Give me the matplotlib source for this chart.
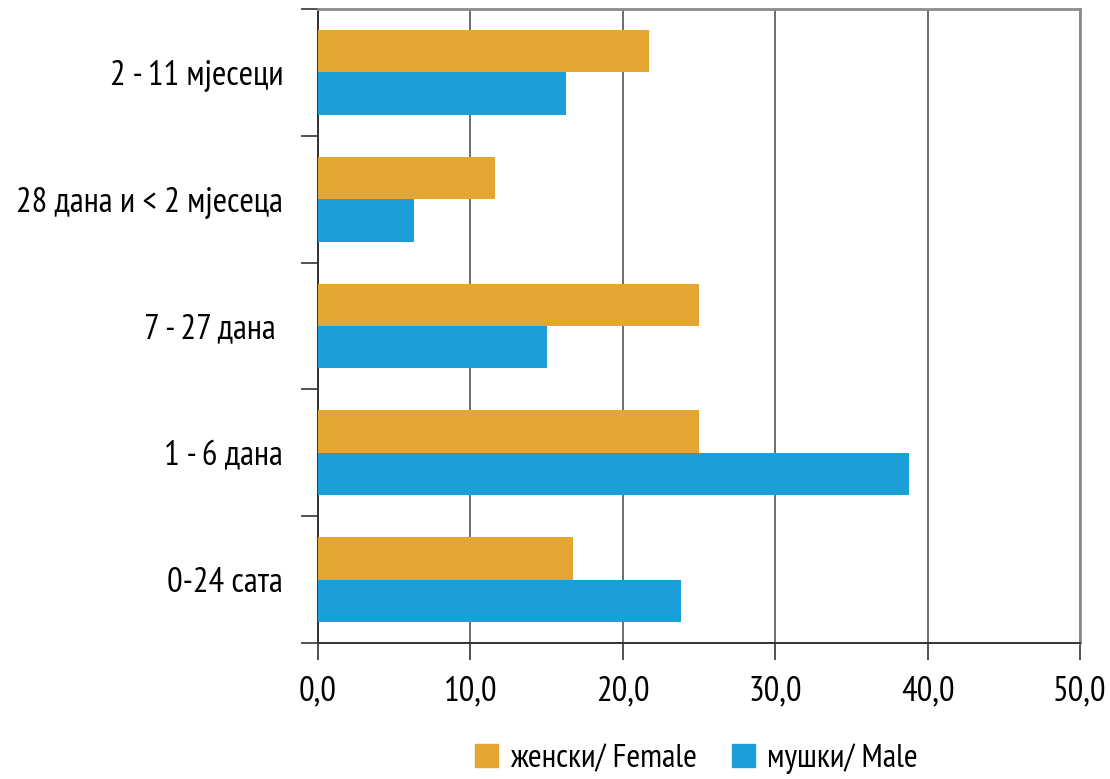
import matplotlib
matplotlib.use("Agg")
import matplotlib.pyplot as plt
import numpy as np
from matplotlib.patches import Patch

categories = ["0-24 сата", "1 - 6 дана", "7 - 27 дана ", "28 дана и < 2 мјесеца", "2 - 11 мјесеци"]
female = [16.7, 25.0, 25.0, 11.6, 21.7]
male = [23.8, 38.8, 15.0, 6.3, 16.3]
labels = ["женски/ Female", "мушки/ Male"]
xticks = [0, 10, 20, 30, 40, 50]

plt.rcParams['font.family'] = ['PT Sans Narrow', 'Roboto Condensed', 'DejaVu Sans']

ORANGE = '#E5A532'
BLUE = '#1B9FD9'

fig = plt.figure(figsize=(11.1, 7.79), dpi=100)
ax = fig.add_axes([318 / 1110, 1 - 643 / 779, (1080 - 318) / 1110, (643 - 9) / 779])

y = np.arange(len(categories))
h = 0.335
ax.barh(y + h / 2, female, height=h, color=ORANGE, label=labels[0], zorder=3)
ax.barh(y - h / 2, male, height=h, color=BLUE, label=labels[1], zorder=3)

ax.set_xlim(0, 50)
ax.set_ylim(-0.5, len(categories) - 0.5)
ax.set_xticks(xticks)
ax.set_xticklabels([f"{v:.1f}".replace('.', ',') for v in xticks], fontsize=25)
ax.set_yticks(y)
ax.set_yticklabels(categories, fontsize=25)
ax.set_yticks(np.arange(len(categories) + 1) - 0.5, minor=True)
ax.tick_params(axis='y', which='major', length=0, pad=25)
ax.tick_params(axis='y', which='minor', length=12, width=1.2, color='#333333')
ax.tick_params(axis='x', length=12, width=1.2, color='#333333', pad=11)

ax.grid(axis='x', color='#555555', linewidth=1.2, zorder=0)
for s in ['left', 'bottom']:
    ax.spines[s].set_color('#333333')
    ax.spines[s].set_linewidth(1.4)
for s in ['top', 'right']:
    ax.spines[s].set_color('#8c8c8c')
    ax.spines[s].set_linewidth(2)

handles = [Patch(color=ORANGE), Patch(color=BLUE)]
fig.legend(handles, labels, loc='center', bbox_to_anchor=(0.627, 0.026), ncol=2,
           frameon=False, fontsize=24, handlelength=0.7, handleheight=0.7,
           handletextpad=0.35, columnspacing=1.05)

fig.savefig('out.png', dpi=100)
